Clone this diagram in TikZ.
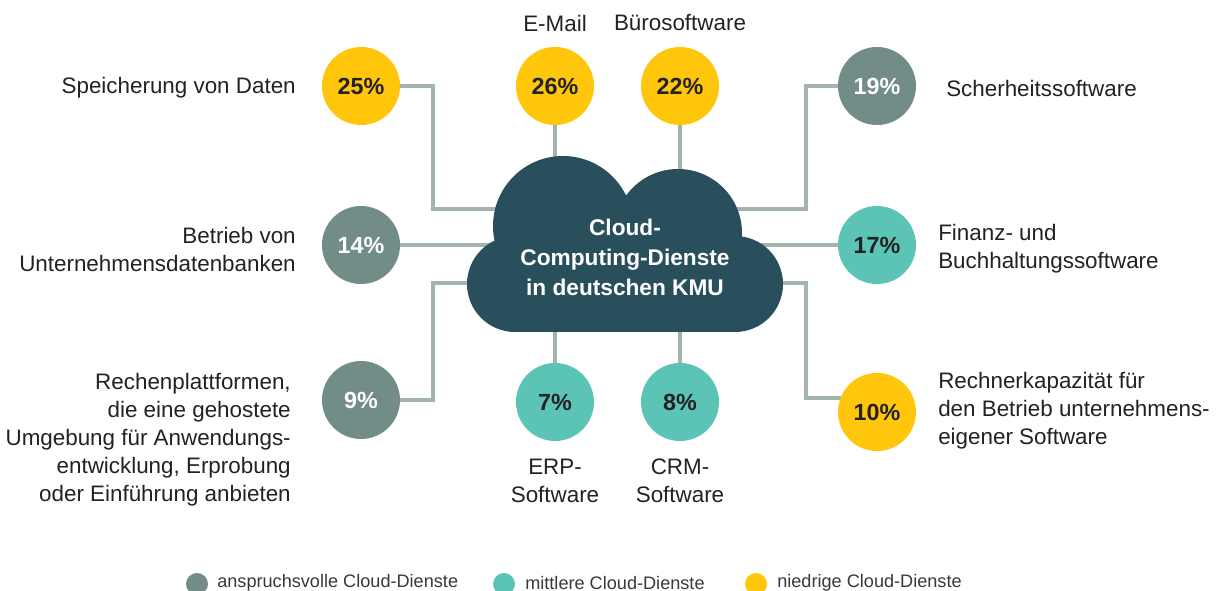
\documentclass[tikz,border=0pt]{standalone}
\usepackage{fontspec}
\setmainfont{Liberation Sans}
\usetikzlibrary{backgrounds}
\definecolor{cyel}{HTML}{FFC60B}
\definecolor{cgry}{HTML}{728C87}
\definecolor{ctea}{HTML}{5CC4B6}
\definecolor{ccld}{HTML}{2A4F5C}
\definecolor{ccon}{HTML}{A3B4AF}
\definecolor{ctxt}{HTML}{222222}
\begin{document}
\begin{tikzpicture}[x=0.75pt,y=-0.75pt,
 conn/.style={draw=ccon,line width=3pt},
 pct/.style={circle,minimum size=58.5pt,inner sep=0pt,font=\fontsize{17.5}{19}\selectfont\bfseries},
 yel/.style={pct,fill=cyel,text=ctxt},
 gry/.style={pct,fill=cgry,text=white},
 tea/.style={pct,fill=ctea,text=ctxt},
 lbl/.style={font=\fontsize{16.8}{21}\selectfont,text=ctxt,inner sep=0pt},
 leg/.style={font=\fontsize{13.6}{16}\selectfont,text=ctxt!90,inner sep=0pt,anchor=west},
 ldot/.style={circle,minimum size=16.5pt,inner sep=0pt}]
\useasboundingbox (0,0) rectangle (1223,591);

% anchor points inside the cloud
\coordinate (k25) at (560,209);
\coordinate (k26) at (555,200);
\coordinate (k22) at (680,200);
\coordinate (k19) at (690,209);
\coordinate (k14) at (560,245);
\coordinate (k17) at (700,245);
\coordinate (k9) at (560,283);
\coordinate (k7) at (555,300);
\coordinate (k8) at (680,300);
\coordinate (k10) at (700,283);

% circles
\path
 (361,86) node[yel] (c25) {25\%}
 (555,86) node[yel] (c26) {26\%}
 (680,86) node[yel] (c22) {22\%}
 (877,86) node[gry] (c19) {19\%}
 (361,245) node[gry] (c14) {14\%}
 (877,245) node[tea] (c17) {17\%}
 (361,400) node[gry] (c9) {9\%}
 (555,402) node[tea] (c7) {7\%}
 (680,402) node[tea] (c8) {8\%}
 (877,412) node[yel] (c10) {10\%};

% connectors
\begin{scope}[on background layer]
\draw[conn] (c25.center) -| (433,209) -- (k25);
\draw[conn] (c26.center) -- (k26);
\draw[conn] (c22.center) -- (k22);
\draw[conn] (c19.center) -| (806,209) -- (k19);
\draw[conn] (c14.center) -- (k14);
\draw[conn] (c17.center) -- (k17);
\draw[conn] (k9) -| (433,400) -- (c9.center);
\draw[conn] (c7.center) -- (k7);
\draw[conn] (c8.center) -- (k8);
\draw[conn] (k10) -| (806,398) -- (c10.center |- 0,398);
\end{scope}

% cloud
\fill[ccld] (515,284) circle[radius=36pt];
\fill[ccld] (735,284) circle[radius=36pt];
\fill[ccld] (563,226) circle[radius=52.5pt];
\fill[ccld] (678,233) circle[radius=48pt];
\fill[ccld] (515,250) rectangle (735,332);
\node[align=center,text=white,font=\fontsize{17}{22.5}\selectfont\bfseries,inner sep=0pt] (cloud) at (625,257)
 {Cloud-\\Computing-Dienste\\in deutschen KMU};

% labels
\node[lbl,anchor=east] (t25) at (296,88) {Speicherung von Daten};
\node[lbl] (tmail) at (555,23) {E-Mail};
\node[lbl] (tbuero) at (680,23) {Bürosoftware};
\node[lbl,anchor=west] (t19) at (946,88) {Scherheitssoftware};
\node[lbl,anchor=east,align=right] (t14) at (296,249) {Betrieb von\\Unternehmensdatenbanken};
\node[lbl,anchor=west,align=left] (t17) at (938,249) {Finanz- und\\Buchhaltungssoftware};
\node[lbl,anchor=east,align=right] (t9) at (291,440) {Rechenplattformen,\\die eine gehostete\\Umgebung für Anwendungs-\\entwicklung, Erprobung\\oder Einführung anbieten};
\node[lbl,anchor=west,align=left] (t10) at (938,411) {Rechnerkapazität für\\den Betrieb unternehmens-\\eigener Software};
\node[lbl,align=center] (t7) at (555,481) {ERP-\\Software};
\node[lbl,align=center] (t8) at (680,481) {CRM-\\Software};

% legend
\node[ldot,fill=cgry] (d1) at (197,584) {};
\node[leg] (l1) at (217,583) {anspruchsvolle Cloud-Dienste};
\node[ldot,fill=ctea] (d2) at (504,584) {};
\node[leg] (l2) at (525,583) {mittlere Cloud-Dienste};
\node[ldot,fill=cyel] (d3) at (756,584) {};
\node[leg] (l3) at (777,583) {niedrige Cloud-Dienste};
\end{tikzpicture}
\end{document}
